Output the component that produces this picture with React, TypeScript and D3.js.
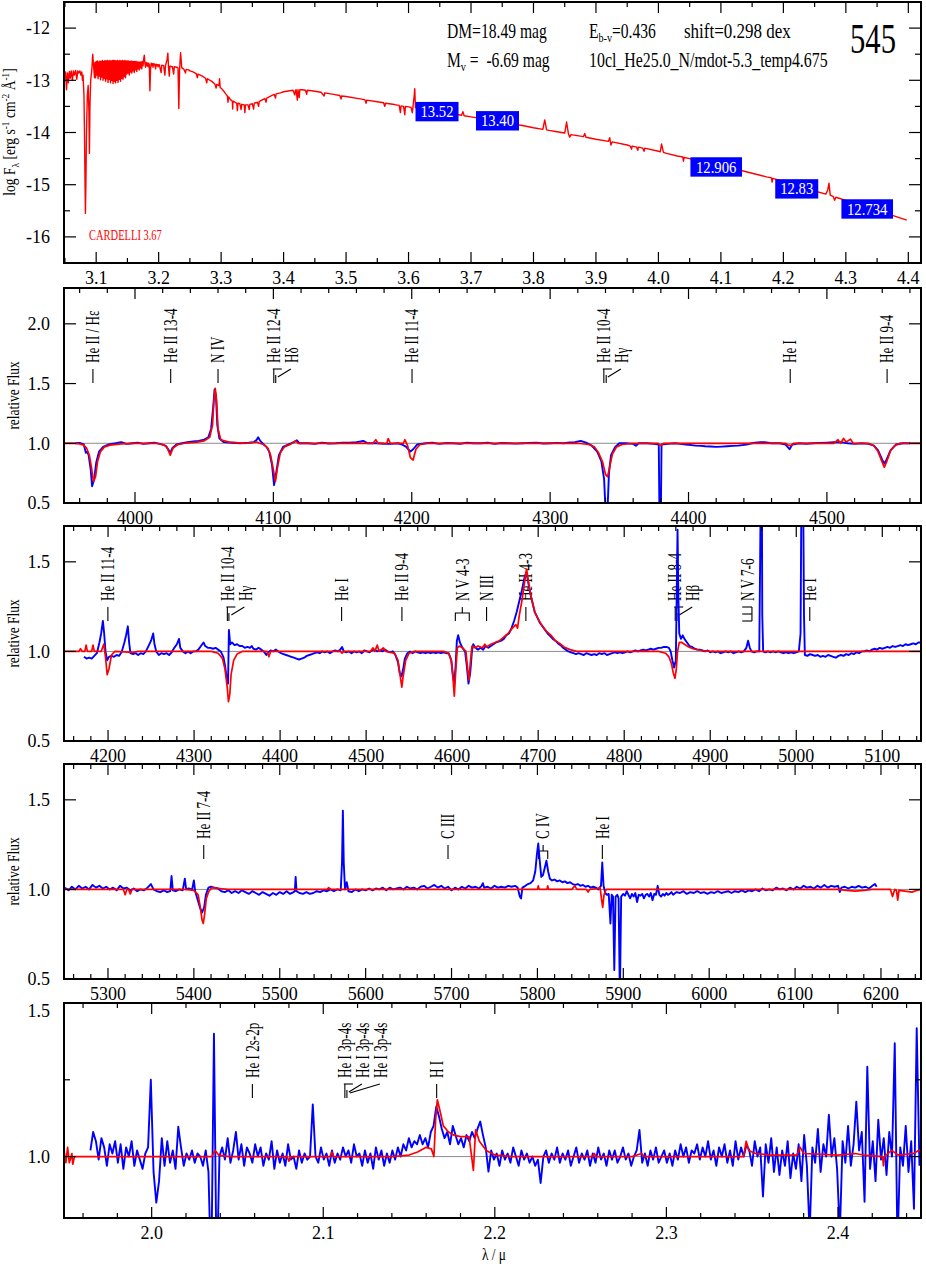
import React from "react";
import * as d3 from "d3";

const FONT = "'Liberation Serif','Times New Roman',Times,serif";
const BLUE = "#0000ff";
const RED = "#ff0000";

// ---------------- DATA ----------------
// Panel 1: model SED (log lambda [A], log F_lambda)
const sedModelA = [
  3.0485,-12.85, 3.050,-12.95, 3.051,-12.84, 3.0525,-13.18, 3.054,-12.86, 3.0555,-13.05, 3.057,-12.83,
  3.0585,-12.96, 3.060,-12.82, 3.062,-13.0, 3.0635,-12.82, 3.065,-12.9, 3.067,-12.81, 3.069,-12.98,
  3.0705,-12.82, 3.072,-12.86, 3.074,-12.82, 3.0755,-12.9, 3.077,-12.84, 3.078,-13.0, 3.079,-12.9,
  3.0805,-13.3, 3.0815,-14.2, 3.0822,-15.0, 3.0828,-15.55, 3.0835,-15.0, 3.0845,-14.0, 3.0858,-13.3,
  3.0872,-13.1, 3.0884,-13.6, 3.0892,-14.4, 3.0900,-13.5, 3.0912,-13.0, 3.0930,-12.8, 3.0945,-12.5,
  3.0960,-12.75, 3.0973,-12.95,
];
const sedBandStart = 3.098;
const sedBandStep = 0.001;
const sedBand = [
  -12.66,-12.95,-12.64,-12.9,-12.63,-12.97,-12.65,-12.92,-12.63,-12.99,
  -12.64,-12.94,-12.62,-13.0,-12.64,-12.96,-12.62,-13.02,-12.63,-12.97,
  -12.62,-13.04,-12.63,-12.98,-12.62,-13.05,-12.63,-13.0,-12.62,-13.06,
  -12.62,-13.02,-12.62,-13.05,-12.63,-13.0,-12.62,-13.04,-12.63,-12.98,
  -12.62,-13.02,-12.63,-12.96,-12.62,-12.98,-12.63,-12.93,-12.62,-12.95,
  -12.63,-12.88,-12.63,-12.86,-12.63,-12.9,-12.64,-12.84,-12.63,-12.86,
  -12.64,-12.82,-12.64,-12.85,-12.64,-12.8,-12.64,-12.83,-12.65,-12.78,
  -12.65,-12.8,-12.65,-12.76,-12.65,-12.78,-12.64,-12.72,-12.6,-12.52,
  -12.66,-12.75,-12.66,-12.72,-12.67,-12.74,-12.67,-12.7,-13.2,-12.8,
  -12.67,-12.72,-12.68,-12.75,-12.68,-12.7,-12.69,-12.78,-12.69,-12.72,
  -12.7,-12.74,-12.7,
];
const sedModelB = [
  3.201,-12.70, 3.204,-12.85, 3.205,-12.71, 3.208,-12.72, 3.210,-12.9, 3.211,-12.72, 3.2135,-12.6,
  3.2147,-12.48, 3.2158,-12.75, 3.217,-12.92, 3.218,-12.73, 3.222,-12.74, 3.224,-12.88, 3.225,-12.74,
  3.229,-12.75, 3.231,-12.76, 3.2323,-13.54, 3.2335,-12.8, 3.2351,-12.47, 3.237,-12.76, 3.240,-12.78,
  3.243,-12.86, 3.244,-12.79, 3.248,-12.8, 3.25,-12.82, 3.255,-12.84, 3.26,-12.87, 3.262,-12.95,
  3.263,-12.88, 3.27,-12.92, 3.275,-12.96, 3.277,-13.05, 3.278,-12.97, 3.285,-13.02, 3.29,-13.07,
  3.292,-13.15, 3.293,-13.08, 3.2965,-13.1, 3.2975,-12.97, 3.2985,-13.14, 3.30,-13.15, 3.305,-13.22,
  3.308,-13.27, 3.31,-13.3, 3.311,-13.42, 3.312,-13.32, 3.315,-13.37, 3.318,-13.4, 3.3185,-13.55,
  3.319,-13.4, 3.322,-13.42, 3.325,-13.44, 3.326,-13.58, 3.327,-13.44, 3.33,-13.45, 3.332,-13.56,
  3.333,-13.46, 3.337,-13.47, 3.338,-13.62, 3.339,-13.47, 3.343,-13.47, 3.345,-13.56, 3.346,-13.46,
  3.35,-13.45, 3.352,-13.55, 3.353,-13.44, 3.358,-13.42, 3.36,-13.5, 3.361,-13.41, 3.365,-13.38,
  3.37,-13.35, 3.372,-13.42, 3.373,-13.34, 3.38,-13.3, 3.385,-13.27, 3.387,-13.34, 3.388,-13.26,
  3.395,-13.24, 3.40,-13.22, 3.41,-13.2, 3.415,-13.19, 3.418,-13.28, 3.419,-13.19, 3.42,-13.18,
  3.422,-13.38, 3.423,-13.18, 3.425,-13.33, 3.426,-13.18, 3.43,-13.18, 3.435,-13.19, 3.437,-13.27,
  3.438,-13.19, 3.445,-13.2, 3.45,-13.21, 3.46,-13.23, 3.465,-13.3, 3.466,-13.24, 3.48,-13.27,
  3.49,-13.29, 3.492,-13.36, 3.493,-13.3, 3.50,-13.31, 3.52,-13.35, 3.53,-13.37, 3.532,-13.44,
  3.533,-13.38, 3.55,-13.41, 3.56,-13.43, 3.562,-13.5, 3.563,-13.44, 3.575,-13.46, 3.58,-13.47,
  3.585,-13.48, 3.587,-13.62, 3.588,-13.49, 3.592,-13.5, 3.594,-13.66, 3.595,-13.5, 3.60,-13.51,
  3.604,-13.52, 3.606,-13.62, 3.607,-13.52, 3.609,-13.3, 3.610,-13.16, 3.611,-13.52, 3.615,-13.53,
  3.62,-13.54, 3.622,-13.66, 3.623,-13.55, 3.63,-13.56, 3.635,-13.57, 3.637,-13.68, 3.638,-13.58,
  3.645,-13.6, 3.648,-13.7, 3.649,-13.6, 3.655,-13.61, 3.66,-13.62, 3.662,-13.75, 3.663,-13.63,
  3.67,-13.64, 3.673,-13.57, 3.675,-13.65, 3.685,-13.67, 3.687,-13.6, 3.689,-13.68, 3.70,-13.7,
  3.72,-13.74, 3.75,-13.8, 3.765,-13.83, 3.767,-13.9, 3.768,-13.84, 3.78,-13.86, 3.80,-13.91,
  3.815,-13.94, 3.818,-13.76, 3.821,-13.95, 3.825,-13.96, 3.835,-13.98, 3.84,-13.99, 3.85,-14.01,
  3.853,-13.8, 3.856,-14.03, 3.858,-14.09, 3.86,-14.04, 3.88,-14.08, 3.882,-14.02, 3.884,-14.09,
  3.90,-14.13, 3.92,-14.17, 3.922,-14.1, 3.924,-14.24, 3.926,-14.18, 3.95,-14.24, 3.955,-14.26,
  3.957,-14.32, 3.958,-14.26, 3.965,-14.28, 3.967,-14.34, 3.968,-14.28, 3.975,-14.3, 3.977,-14.36,
  3.978,-14.3, 4.0,-14.36, 4.003,-14.37, 4.005,-14.22, 4.008,-14.38, 4.013,-14.4, 4.03,-14.45,
  4.039,-14.47, 4.040,-14.55, 4.041,-14.48, 4.05,-14.5, 4.10,-14.64, 4.12,-14.7, 4.122,-14.75,
  4.123,-14.7, 4.15,-14.78, 4.1732,-14.85, 4.181,-14.87, 4.182,-14.95, 4.183,-14.88, 4.22,-15.0,
  4.25,-15.12, 4.268,-15.18, 4.271,-15.1, 4.273,-14.97, 4.275,-15.2, 4.28,-15.23, 4.282,-15.3,
  4.284,-15.24, 4.30,-15.3, 4.33,-15.42, 4.36,-15.53, 4.3975,-15.68,
];

// photometry boxes
const photMags = ["13.52", "13.40", "12.906", "12.83", "12.734"];
const photLogLam = [3.6456, 3.7424, 4.0925, 4.2214, 4.3342];
const photLogF = [-13.6, -13.776, -14.66, -15.08, -15.465];

// Panel 2 (3950-4570 A)
const p2Model = [
  3948.7,1.0, 3955,1.0, 3960,0.995, 3963,0.985, 3965,0.96, 3967,0.9, 3968.5,0.8, 3970,0.68, 3971.5,0.72,
  3973,0.85, 3975,0.93, 3978,0.97, 3982,0.985, 3990,0.995, 4000,1.0, 4015,1.0, 4020,0.99, 4023,0.97,
  4025.5,0.9, 4027.5,0.96, 4031,0.99, 4036,1.0, 4045,1.01, 4050,1.02, 4054,1.05, 4056,1.15, 4057,1.35,
  4058,1.46, 4059,1.35, 4060,1.12, 4062,1.03, 4068,1.01, 4080,1.0, 4088,1.01, 4090,1.0, 4093,0.99,
  4096,0.96, 4098,0.9, 4100,0.78, 4101.5,0.68, 4103,0.8, 4105,0.92, 4108,0.97, 4112,0.99, 4116,1.02,
  4118,1.0, 4172,1.0, 4174,1.03, 4175.5,1.0, 4182,1.0, 4183,1.04, 4184.5,1.0, 4194,1.0, 4195,1.03,
  4197,0.98, 4199,0.88, 4201,0.86, 4203,0.95, 4206,0.99, 4212,1.0, 4320,1.0, 4328,0.99, 4332,0.97,
  4335,0.92, 4338,0.84, 4340,0.74, 4341.5,0.72, 4343,0.8, 4345,0.91, 4348,0.97, 4352,0.99, 4360,1.0,
  4378,1.0, 4380,0.98, 4382,1.0, 4470,1.0, 4472,0.985, 4474,0.98, 4476,1.0, 4505,1.0, 4508,1.03,
  4510,1.0, 4512,1.04, 4514,1.01, 4517,1.035, 4519,1.0, 4530,1.0, 4534,0.98, 4537,0.93, 4540,0.84,
  4541.5,0.80, 4543,0.84, 4546,0.94, 4549,0.98, 4553,1.0, 4568,1.0,
];
const p2Obs = [
  3957,1.0, 3960,1.003, 3963,0.99, 3964.5,0.92, 3965.5,0.93, 3966.5,0.9, 3968,0.78, 3969,0.64, 3970.5,0.7,
  3972,0.84, 3974,0.93, 3977,0.97, 3981,0.99, 3986,1.0, 3990,1.01, 3994,0.995, 3998,1.0, 4002,1.005,
  4006,0.995, 4010,1.0, 4014,1.005, 4018,0.995, 4022,0.98, 4024,0.95, 4025.5,0.92, 4027,0.96, 4030,0.99,
  4034,1.0, 4038,1.01, 4042,1.015, 4046,1.02, 4050,1.03, 4053,1.05, 4055,1.12, 4056.5,1.3, 4057.5,1.45,
  4058.5,1.4, 4059.5,1.15, 4061,1.04, 4064,1.01, 4070,1.005, 4076,1.0, 4082,1.005, 4086,1.01, 4088,1.03,
  4089,1.05, 4090.5,1.02, 4093,0.99, 4095,0.97, 4097,0.93, 4099,0.82, 4100.5,0.65, 4102,0.75, 4104,0.9,
  4107,0.97, 4111,0.99, 4115,1.01, 4117,1.025, 4119,1.0, 4125,1.0, 4130,0.995, 4135,1.005, 4140,0.998,
  4145,1.0, 4150,1.004, 4155,1.005, 4160,1.01, 4163,1.015, 4165,1.02, 4168,1.0, 4175,1.0, 4180,0.996,
  4185,0.995, 4190,1.0, 4193,0.99, 4196,0.97, 4199,0.93, 4201,0.95, 4204,0.99, 4210,1.0, 4215,1.004,
  4220,0.995, 4225,1.002, 4230,1.0, 4235,0.996, 4240,1.005, 4245,1.0, 4250,1.0, 4255,1.004, 4260,0.995,
  4265,1.002, 4270,1.0, 4275,0.997, 4280,1.0, 4285,1.003, 4290,1.005, 4295,0.998, 4300,1.0, 4305,1.003,
  4310,1.0, 4314,1.006, 4318,1.01, 4322,1.02, 4326,1.005, 4330,0.98, 4334,0.93, 4337,0.85, 4339,0.7,
  4340,0.45, 4341.5,0.45, 4342.5,0.75, 4344,0.9, 4347,0.97, 4350,1.0, 4355,1.0, 4360,0.995, 4362,0.98,
  4364,1.0, 4370,1.0, 4375,0.995, 4378.5,0.99, 4379,0.4, 4380,0.4, 4380.5,0.99, 4385,0.995, 4390,1.0,
  4394,0.995, 4398,0.99, 4402,0.985, 4405,0.98, 4409,0.978, 4412,0.975, 4416,0.973, 4420,0.97, 4424,0.972,
  4428,0.975, 4432,0.978, 4436,0.98, 4439,0.985, 4442,0.99, 4445,0.998, 4448,1.005, 4452,1.008, 4455,1.01,
  4460,1.0, 4466,1.0, 4470,0.99, 4473,0.95, 4475,0.99, 4480,1.0, 4485,0.996, 4490,1.0, 4495,1.003,
  4500,1.005, 4505,1.008, 4510,1.01, 4515,1.0, 4520,0.995, 4525,1.0, 4530,0.995, 4534,0.98, 4537,0.94,
  4540,0.86, 4541.5,0.83, 4543,0.86, 4546,0.94, 4550,0.99, 4555,1.0, 4560,1.0,
];

// Panel 3 (4150-5145 A)
const p3Model = [
  4148.8,1.0, 4160,1.0, 4166,1.0, 4168,1.015, 4170,1.0, 4173,1.0, 4174.5,1.035, 4176,1.0, 4181,1.0,
  4182.5,1.035, 4184,1.0, 4192,1.0, 4195,1.04, 4197,0.97, 4199,0.87, 4201,0.9, 4204,0.98, 4208,1.0,
  4230,0.995, 4235,1.0, 4320,1.0, 4328,0.99, 4333,0.96, 4336,0.9, 4338.5,0.8, 4340,0.72, 4341.5,0.76,
  4343,0.87, 4346,0.95, 4350,0.985, 4356,1.0, 4385,1.0, 4387,0.97, 4389,1.0, 4470,1.0, 4472,0.99,
  4474,1.0, 4505,1.0, 4508,1.02, 4510,1.0, 4513,1.035, 4515,1.0, 4520,1.02, 4523,1.0, 4533,0.99,
  4537,0.95, 4540,0.85, 4541.5,0.8, 4543,0.86, 4546,0.95, 4550,0.99, 4556,1.0, 4590,1.0, 4596,0.99,
  4599,0.95, 4601,0.85, 4602.5,0.75, 4604,0.88, 4606,1.02, 4608,1.03, 4612,1.02, 4616,1.0, 4618,0.9,
  4619.5,0.84, 4621,0.93, 4623,1.03, 4627,1.02, 4630,1.03, 4635,1.02, 4638,1.04, 4640,1.025, 4645,1.04,
  4650,1.05, 4655,1.06, 4660,1.08, 4665,1.1, 4670,1.13, 4674,1.15, 4676,1.13, 4678,1.2, 4681,1.28,
  4684,1.38, 4686.5,1.46, 4689,1.38, 4692,1.3, 4696,1.22, 4700,1.18, 4705,1.14, 4710,1.11, 4715,1.09,
  4720,1.06, 4725,1.045, 4730,1.025, 4737,1.01, 4745,1.0, 4840,1.0, 4848,0.99, 4852,0.97, 4855,0.93,
  4857,0.88, 4859,0.85, 4860.5,0.9, 4862,1.0, 4864,1.05, 4867,1.05, 4870,1.04, 4875,1.025, 4880,1.015,
  4890,1.005, 4900,1.0, 5145,1.0,
];
const p3Obs = [
  4172,0.97, 4175,0.96, 4178,0.965, 4181,0.96, 4184,0.975, 4187,0.99, 4190,1.05, 4192,1.1, 4194,1.17,
  4195.5,1.1, 4197,1.0, 4199,0.95, 4201,0.97, 4204,0.975, 4207,0.97, 4210,0.98, 4213,0.975, 4216,1.0,
  4219,1.05, 4221,1.09, 4223,1.14, 4224.5,1.05, 4226,0.99, 4229,0.985, 4232,0.99, 4235,0.98, 4238,0.99,
  4241,0.985, 4244,1.0, 4247,1.03, 4250,1.06, 4252.5,1.1, 4254,1.04, 4256,1.0, 4259,0.98, 4262,0.99,
  4265,0.985, 4268,0.99, 4271,0.98, 4274,0.995, 4277,1.02, 4280,1.04, 4282.5,1.07, 4284,1.02, 4287,1.0,
  4290,0.99, 4293,1.0, 4296,0.99, 4299,1.0, 4302,1.0, 4305,1.01, 4308,1.03, 4311,1.05, 4313,1.03,
  4316,1.02, 4319,1.02, 4322,1.015, 4325,1.02, 4328,1.01, 4331,1.0, 4334,0.97, 4336,0.92, 4338,0.85,
  4339.5,0.82, 4340.5,1.12, 4342,1.04, 4344,1.05, 4347,1.035, 4350,1.04, 4353,1.03, 4356,1.03,
  4359,1.02, 4362,1.025, 4365,1.02, 4367,1.03, 4369,1.015, 4372,1.01, 4375,1.02, 4378,1.01, 4381,1.0,
  4384,0.98, 4386,0.995, 4389,1.005, 4392,1.0, 4395,1.01, 4398,1.0, 4401,0.99, 4404,0.985, 4407,0.98,
  4410,0.975, 4413,0.97, 4416,0.965, 4419,0.96, 4422,0.955, 4425,0.96, 4428,0.965, 4431,0.975,
  4434,0.98, 4437,0.985, 4440,0.99, 4443,0.995, 4446,0.99, 4449,1.0, 4452,0.995, 4455,1.0, 4458,0.99,
  4461,1.0, 4464,1.005, 4467,1.0, 4470,1.01, 4472,1.025, 4474,1.0, 4477,0.995, 4480,1.0, 4483,0.99,
  4486,1.0, 4489,0.995, 4492,1.0, 4495,0.99, 4498,1.005, 4501,1.0, 4504,0.995, 4507,1.005, 4510,1.01,
  4513,1.0, 4516,1.005, 4519,1.0, 4522,1.01, 4525,1.0, 4528,0.995, 4531,1.0, 4534,0.98, 4537,0.94,
  4539,0.88, 4541,0.86, 4543,0.9, 4545,0.96, 4548,0.99, 4551,1.0, 4554,0.99, 4557,1.0, 4560,0.995,
  4563,0.99, 4566,0.995, 4569,0.99, 4572,0.995, 4575,0.99, 4578,0.995, 4581,0.99, 4584,0.995, 4587,0.99,
  4590,0.995, 4593,0.99, 4596,0.99, 4599,0.95, 4601,0.86, 4602.5,0.82, 4604,0.92, 4605.5,1.06, 4607,1.09,
  4609,1.05, 4612,1.02, 4615,1.0, 4617,0.92, 4619,0.82, 4621,0.88, 4623,1.0, 4624.5,1.04, 4627,1.02,
  4630,1.01, 4633,1.02, 4636,1.01, 4639,1.03, 4642,1.02, 4645,1.03, 4648,1.04, 4651,1.05, 4654,1.055,
  4657,1.06, 4660,1.07, 4663,1.09, 4666,1.1, 4669,1.13, 4672,1.17, 4675,1.22, 4678,1.28, 4681,1.34,
  4684,1.41, 4686,1.44, 4688,1.4, 4690,1.34, 4693,1.28, 4696,1.22, 4699,1.19, 4702,1.16, 4705,1.14,
  4708,1.12, 4711,1.1, 4714,1.085, 4717,1.07, 4720,1.06, 4723,1.045, 4726,1.035, 4729,1.02, 4732,1.01,
  4735,1.0, 4738,0.995, 4741,0.99, 4744,0.985, 4747,0.99, 4750,0.985, 4753,0.98, 4756,0.99, 4759,0.985,
  4762,0.98, 4765,0.985, 4768,0.98, 4771,0.99, 4774,0.985, 4777,0.99, 4780,0.98, 4783,0.985, 4786,0.99,
  4789,0.995, 4792,0.99, 4795,0.995, 4798,0.99, 4801,0.995, 4804,1.0, 4807,0.995, 4810,1.0, 4813,1.005,
  4816,1.0, 4819,1.005, 4822,1.01, 4825,1.005, 4828,1.01, 4831,1.015, 4834,1.01, 4837,1.015, 4840,1.02,
  4843,1.02, 4846,1.025, 4849,1.025, 4852,1.02, 4854,1.0, 4856,0.95, 4858,0.91, 4860,0.95, 4861,1.3,
  4862,1.68, 4863,1.3, 4864,1.1, 4866,1.07, 4868,1.09, 4870,1.07, 4873,1.05, 4876,1.03, 4879,1.025,
  4882,1.015, 4885,1.01, 4888,1.01, 4891,1.005, 4894,1.0, 4897,1.005, 4900,0.995, 4903,1.0, 4906,0.995,
  4909,1.0, 4912,0.99, 4915,0.995, 4918,1.0, 4921,0.995, 4924,1.0, 4927,0.99, 4930,0.995, 4933,1.0,
  4936,0.995, 4939,1.0, 4942,1.02, 4944,1.06, 4946,1.02, 4948,1.0, 4951,0.995, 4954,1.0, 4957,1.0,
  4958,1.5, 4958.7,1.9, 4960,1.9, 4960.5,1.2, 4961.5,1.0, 4964,0.995, 4967,1.0, 4970,0.995, 4973,1.0,
  4976,0.995, 4979,1.0, 4982,0.995, 4985,0.99, 4988,0.995, 4991,0.99, 4994,0.995, 4997,0.99, 5000,0.995,
  5003,1.0, 5005,1.1, 5006,1.9, 5008,1.9, 5009,1.2, 5010,0.98, 5013,0.975, 5016,0.985, 5019,0.98,
  5022,0.975, 5025,0.98, 5028,0.97, 5031,0.975, 5034,0.97, 5037,0.98, 5040,0.975, 5043,0.97, 5046,0.965,
  5049,0.975, 5052,0.98, 5055,0.975, 5058,0.985, 5061,0.98, 5064,0.99, 5067,0.985, 5070,0.995, 5073,0.99,
  5076,1.0, 5079,1.0, 5082,1.005, 5085,1.0, 5088,1.01, 5091,1.015, 5094,1.01, 5097,1.02, 5100,1.015,
  5103,1.02, 5106,1.025, 5109,1.02, 5112,1.03, 5115,1.025, 5118,1.03, 5121,1.035, 5124,1.03, 5127,1.04,
  5130,1.035, 5133,1.04, 5136,1.045, 5139,1.04, 5142,1.05, 5145,1.05,
];

// Panel 4 (5250-6245 A)
const p4Model = [
  5248.8,1.0, 5300,1.0, 5318,1.0, 5320,0.97, 5322,1.0, 5324,1.0, 5326,0.975, 5328,1.0, 5390,1.0,
  5400,0.995, 5405,0.97, 5407.5,0.9, 5409.5,0.83, 5411,0.81, 5412.5,0.86, 5414.5,0.95, 5417.5,0.99,
  5421,1.01, 5430,1.005, 5440,1.0, 5555,1.0, 5557,1.01, 5559,1.0, 5800,1.0, 5801,1.02, 5802,1.0,
  5811,1.0, 5812,1.02, 5813,1.0, 5840,1.0, 5843.5,1.02, 5846,1.0, 5857,1.0, 5859,0.985, 5861,1.0,
  5870,1.005, 5873,1.01, 5874.5,0.95, 5876,0.9, 5877.5,0.97, 5880,1.0, 6150,1.0, 6160,0.995,
  6170,0.99, 6180,0.995, 6190,1.0, 6211,1.0, 6213.5,0.96, 6216,1.0, 6218,0.995, 6219.5,0.94,
  6221,0.995, 6228,0.99, 6236,0.985, 6242,0.995, 6246.6,1.0,
];
const p4Obs = [
  5250,1.01, 5254,0.995, 5258,1.015, 5262,1.0, 5266,1.02, 5270,1.005, 5274,1.015, 5278,1.0, 5282,1.025,
  5286,1.01, 5290,1.02, 5294,1.005, 5298,1.015, 5302,1.0, 5306,1.01, 5310,0.995, 5314,1.02, 5318,1.005,
  5322,1.01, 5326,0.995, 5330,1.005, 5334,0.99, 5338,1.0, 5342,0.995, 5346,1.01, 5350,1.03, 5353,1.0,
  5357,0.99, 5361,0.985, 5365,0.995, 5369,0.985, 5372.5,0.99, 5374,1.075, 5375.5,0.995, 5379,0.99,
  5383,1.0, 5387,0.995, 5389.5,1.06, 5391,1.0, 5394,1.005, 5398,1.0, 5400,1.05, 5401.5,0.99, 5404,0.95,
  5407,0.9, 5409.5,0.87, 5412,0.9, 5414,0.97, 5417,1.01, 5420,1.015, 5424,1.01, 5428,1.005, 5432,0.99,
  5436,0.985, 5440,0.995, 5444,0.98, 5448,0.99, 5452,0.98, 5456,0.995, 5460,0.985, 5464,0.975, 5468,0.99,
  5472,0.98, 5476,0.97, 5480,0.985, 5484,0.975, 5488,0.965, 5492,0.98, 5496,0.97, 5500,0.985, 5504,0.975,
  5508,0.99, 5512,0.975, 5516,0.985, 5517.5,0.99, 5518.5,1.07, 5519.5,0.99, 5523,0.98, 5527,0.975,
  5531,0.985, 5535,0.975, 5539,0.98, 5543,0.99, 5547,0.985, 5551,0.995, 5555,0.99, 5559,1.0, 5563,0.99,
  5567,1.0, 5571,0.995, 5572.5,1.15, 5573.5,1.44, 5574.5,1.15, 5576,1.0, 5578,1.04, 5580,0.99,
  5584,0.985, 5588,1.0, 5592,0.99, 5596,1.0, 5600,0.995, 5604,1.005, 5608,0.995, 5612,1.005, 5616,1.0,
  5620,1.01, 5624,0.995, 5628,1.01, 5632,1.0, 5636,1.005, 5640,1.01, 5644,1.0, 5648,1.015, 5652,1.005,
  5656,1.01, 5660,1.0, 5664,1.015, 5668,1.02, 5672,1.005, 5676,1.015, 5680,1.025, 5684,1.01, 5688,1.02,
  5692,1.005, 5696,1.015, 5700,0.995, 5704,1.01, 5708,1.0, 5712,1.015, 5716,1.005, 5720,1.02, 5724,1.01,
  5728,1.015, 5732,1.005, 5735,1.02, 5736.5,1.035, 5738,1.01, 5742,1.015, 5746,1.005, 5750,1.02,
  5754,1.01, 5758,1.015, 5762,1.01, 5766,1.02, 5770,1.015, 5774,1.02, 5777,1.01, 5779.5,0.96, 5781,0.95,
  5782.5,1.01, 5786,1.02, 5789,1.03, 5792,1.035, 5795,1.05, 5797.5,1.1, 5799.5,1.2, 5801,1.257,
  5802.5,1.17, 5804.5,1.07, 5806.5,1.08, 5808.5,1.12, 5810.5,1.16, 5812.5,1.1, 5814.5,1.06, 5817,1.05,
  5820,1.055, 5823,1.045, 5826,1.05, 5829,1.04, 5832,1.045, 5835,1.035, 5838,1.04, 5841,1.03, 5844,1.025,
  5847,1.03, 5850,1.02, 5853,1.025, 5856,1.015, 5859,1.02, 5862,1.01, 5865,1.015, 5868,1.01, 5871,1.0,
  5874,1.02, 5875.5,1.15, 5877,1.02, 5879,0.98, 5881,0.97, 5883,0.975, 5885,0.81, 5886.5,0.97, 5888,0.96,
  5889.5,0.55, 5891,0.96, 5893,0.97, 5894.5,0.95, 5896,0.4, 5897.5,0.96, 5900,0.975, 5902,0.965,
  5904,0.99, 5906,0.97, 5908,0.95, 5910,0.975, 5912,0.96, 5914,0.98, 5916,0.93, 5918,0.97, 5920,0.965,
  5922,0.975, 5924,0.95, 5926,0.97, 5928,0.975, 5930,0.96, 5932,0.98, 5934,0.94, 5936,0.975, 5938,0.97,
  5940,1.02, 5942,0.97, 5944,0.96, 5946,0.975, 5948,0.965, 5950,0.98, 5952,0.97, 5954,0.975, 5956,0.985,
  5958,0.97, 5962,0.985, 5966,0.98, 5970,0.99, 5974,0.975, 5978,0.985, 5982,0.98, 5986,0.99, 5990,0.98,
  5994,0.985, 5998,0.975, 6002,0.985, 6006,0.98, 6010,0.99, 6014,0.98, 6018,0.985, 6022,0.99, 6026,0.98,
  6030,0.99, 6034,0.985, 6038,0.995, 6042,0.985, 6046,0.995, 6050,0.99, 6054,1.0, 6058,0.99, 6062,1.005,
  6066,0.995, 6070,1.0, 6074,0.995, 6078,1.01, 6082,1.0, 6086,1.005, 6090,0.995, 6094,1.01, 6098,1.0,
  6102,1.015, 6106,1.005, 6110,1.02, 6114,1.01, 6118,1.015, 6122,1.005, 6126,1.02, 6130,1.01, 6134,1.025,
  6138,1.01, 6142,1.02, 6146,1.015, 6150,1.02, 6152,0.985, 6154,1.01, 6158,1.015, 6162,1.005, 6166,1.015,
  6170,1.01, 6174,1.02, 6178,1.01, 6182,1.015, 6186,1.005, 6190,1.02, 6193,1.03, 6195,1.015,
];

// Panel 5 (K band, micron)
const p5Model = [
  1.9489,1.02, 1.950,0.98, 1.951,1.03, 1.952,0.98, 1.9535,1.01, 1.954,0.975, 1.955,1.0, 1.96,1.0,
  2.035,1.0, 2.037,1.02, 2.039,1.005, 2.045,1.0, 2.079,1.0, 2.08,0.985, 2.081,1.0, 2.104,1.0, 2.105,1.015,
  2.106,1.0, 2.14,1.0, 2.15,1.005, 2.155,1.015, 2.16,1.03, 2.163,1.025, 2.1645,1.0, 2.1655,1.12,
  2.1665,1.185, 2.168,1.15, 2.17,1.1, 2.173,1.08, 2.176,1.07, 2.18,1.065, 2.185,1.065, 2.1875,0.955,
  2.1888,1.087, 2.191,1.05, 2.195,1.02, 2.2,1.005, 2.21,1.0, 2.257,1.0, 2.258,1.01, 2.259,1.0, 2.28,1.0,
  2.2855,1.01, 2.287,1.0, 2.345,1.0, 2.3465,1.05, 2.348,1.02, 2.352,1.01, 2.36,1.005, 2.376,1.005,
  2.378,1.03, 2.38,1.01, 2.40,1.005, 2.41,1.01, 2.415,1.005, 2.426,1.0, 2.4265,0.97, 2.427,1.0,
  2.4313,1.02, 2.435,1.005, 2.444,1.01, 2.447,1.02, 2.4484,1.02,
];
const p5ObsStart = 1.9643;
const p5ObsStep = 0.0016;
const p5Obs = [
  1.02,1.08,1.05,0.99,1.06,1.03,0.97,1.04,1.01,1.05,
  0.98,1.04,0.96,1.03,1.0,1.05,0.97,1.02,0.99,0.96,
  1.01,1.03,1.25,0.95,0.85,0.92,1.06,0.97,1.05,0.98,
  1.02,0.96,1.097,1.03,0.97,1.01,0.99,1.02,0.98,1.01,
  1.0,0.97,1.02,0.95,0.6,1.4,0.6,1.0,1.03,0.99,
  1.06,0.98,1.02,1.08,0.99,1.04,0.97,1.03,1.01,0.98,
  1.04,1.0,1.03,0.97,1.01,0.99,1.05,0.96,1.02,0.98,
  1.01,0.97,1.04,0.99,1.0,0.96,1.02,0.98,1.01,0.99,
  1.0,1.17,1.0,0.98,1.03,0.99,1.01,0.97,1.02,0.98,
  1.01,0.99,1.03,1.0,1.02,0.98,1.04,1.0,1.01,0.97,
  1.02,0.98,1.01,0.96,1.03,0.99,1.02,0.97,1.01,0.98,
  1.02,0.99,1.03,1.0,1.04,1.02,1.06,1.03,1.05,1.04,
  1.07,1.04,1.06,1.03,1.08,1.1,1.163,1.13,1.09,1.06,
  1.08,1.04,1.1,1.07,1.04,1.06,1.03,1.07,1.05,1.08,
  1.06,1.09,1.114,1.07,1.03,0.951,1.02,0.99,1.01,0.97,
  1.02,0.99,1.01,0.98,1.03,1.0,0.97,1.02,0.99,1.01,
  0.98,1.0,0.97,0.99,0.914,1.0,1.02,0.98,1.01,0.99,
  1.03,0.98,1.01,0.99,1.02,0.97,1.0,1.03,0.98,1.01,
  0.99,1.02,0.97,1.01,0.98,1.03,0.99,1.01,0.97,1.02,
  0.99,1.02,0.98,1.0,1.03,0.99,1.01,0.97,1.0,1.02,
  1.087,0.98,1.01,0.97,1.02,0.99,1.03,0.98,1.0,1.02,
  0.98,1.01,0.97,1.02,0.99,1.04,1.0,1.03,0.98,1.02,
  1.01,1.04,0.99,1.03,1.0,1.05,0.99,1.02,0.97,1.03,
  1.0,1.04,0.98,1.02,0.97,1.05,0.99,1.03,1.0,1.04,
  1.02,0.97,1.05,1.0,1.03,0.87,1.04,0.98,1.06,0.95,
  1.03,0.94,1.02,0.97,1.05,0.93,1.01,0.96,1.04,0.92,
  1.07,0.97,0.75,1.03,0.98,1.09,0.95,1.04,1.0,1.136,
  1.0,1.06,0.96,0.75,1.05,0.98,1.1,0.97,1.04,1.179,
  1.02,1.08,0.853,1.293,0.96,1.05,0.92,1.12,0.99,1.06,
  0.94,1.08,1.0,1.369,0.7,1.03,0.97,1.1,0.95,1.05,
  0.83,1.418,0.97,
];

// line identifications
const p2Lines = [
  { names: ["He II / Hε"], waves: [3969.6] },
  { names: ["He II 13-4"], waves: [4025.8] },
  { names: ["N IV"], waves: [4060.0] },
  { names: ["He II 12-4", "Hδ"], waves: [4100.3, 4101.7] },
  { names: ["He II 11-4"], waves: [4200.2] },
  { names: ["He II 10-4", "Hγ"], waves: [4338.8, 4340.5] },
  { names: ["He I"], waves: [4473.5] },
  { names: ["He II 9-4"], waves: [4543.5] },
];
const p3Lines = [
  { names: ["He II 11-4"], waves: [4199.8] },
  { names: ["He II 10-4", "Hγ"], waves: [4338.7, 4340.5] },
  { names: ["He I"], waves: [4471.5] },
  { names: ["He II 9-4"], waves: [4541.6] },
  { names: ["N V 4-3"], waves: [4603.7, 4619.9] },
  { names: ["N III"], waves: [4640.0] },
  { names: ["He II 4-3"], waves: [4685.7] },
  { names: ["He II 8-4", "Hβ"], waves: [4859.3, 4861.3] },
  { names: ["N V 7-6"], waves: [4943.0, 4944.0, 4945.0] },
  { names: ["He I"], waves: [5015.7] },
];
const p4Lines = [
  { names: ["He II 7-4"], waves: [5411.5] },
  { names: ["C III"], waves: [5695.9] },
  { names: ["C IV"], waves: [5801.3, 5812.0] },
  { names: ["He I"], waves: [5875.6] },
];
const p5Lines = [
  { names: ["He I 2s-2p"], waves: [2.0587] },
  { names: ["He I 3p-4s", "He I 3p-4s", "He I 3p-4s"], waves: [2.1126, 2.1127, 2.1138] },
  { names: ["H I"], waves: [2.1661] },
];

// ---------------- LAYOUT ----------------
const W = 926;
const H = 1268;
const LEFT = 64;
const RIGHT = 921;

type Pt = [number, number];
const pairs = (flat: number[]): Pt[] => {
  const out: Pt[] = [];
  for (let i = 0; i + 1 < flat.length; i += 2) out.push([flat[i], flat[i + 1]]);
  return out;
};
const grid = (start: number, step: number, vals: number[]): Pt[] =>
  vals.map((v, i) => [start + i * step, v] as Pt);

function multiples(d0: number, d1: number, step: number): number[] {
  const out: number[] = [];
  const k0 = Math.ceil(d0 / step - 1e-9);
  const k1 = Math.floor(d1 / step + 1e-9);
  for (let k = k0; k <= k1; k++) out.push(+(k * step).toFixed(6));
  return out;
}

interface PanelCfg {
  id: string;
  top: number;
  bottom: number;
  xDom: [number, number];
  yDom: [number, number];
  xMajor: number;
  xMinor: number;
  yMajor: number;
  yMinor: number;
  xFmt: (v: number) => string;
  yFmt: (v: number) => string;
  unityLine: boolean;
}

const f1 = d3.format(".1f");
const fInt = (v: number) => String(Math.round(v));

const panels: PanelCfg[] = [
  { id: "p1", top: 2, bottom: 263, xDom: [3.0485, 4.4203], yDom: [-16.5, -11.5], xMajor: 0.1, xMinor: 0.05, yMajor: 1, yMinor: 0.5, xFmt: f1, yFmt: fInt, unityLine: false },
  { id: "p2", top: 288, bottom: 503, xDom: [3948.7, 4568], yDom: [0.5, 2.3], xMajor: 100, xMinor: 20, yMajor: 0.5, yMinor: 0, xFmt: fInt, yFmt: f1, unityLine: true },
  { id: "p3", top: 526, bottom: 741, xDom: [4148.8, 5145], yDom: [0.5, 1.7], xMajor: 100, xMinor: 20, yMajor: 0.5, yMinor: 0, xFmt: fInt, yFmt: f1, unityLine: true },
  { id: "p4", top: 764, bottom: 979, xDom: [5248.8, 6246.6], yDom: [0.5, 1.7], xMajor: 100, xMinor: 20, yMajor: 0.5, yMinor: 0, xFmt: fInt, yFmt: f1, unityLine: true },
  { id: "p5", top: 1003, bottom: 1218, xDom: [1.9489, 2.4484], yDom: [0.8, 1.5], xMajor: 0.1, xMinor: 0.02, yMajor: 0.5, yMinor: 0.25, xFmt: f1, yFmt: f1, unityLine: true },
];

function scalesFor(p: PanelCfg) {
  const xs = d3.scaleLinear().domain(p.xDom).range([LEFT, RIGHT]);
  const ys = d3.scaleLinear().domain(p.yDom).range([p.bottom, p.top]);
  return { xs, ys };
}

function Frame({ p }: { p: PanelCfg }) {
  const { xs, ys } = scalesFor(p);
  const xMaj = multiples(p.xDom[0], p.xDom[1], p.xMajor);
  const xMin = multiples(p.xDom[0], p.xDom[1], p.xMinor).filter(
    (v) => Math.abs(v / p.xMajor - Math.round(v / p.xMajor)) > 1e-6
  );
  const yMaj = multiples(p.yDom[0], p.yDom[1], p.yMajor);
  const yMin = p.yMinor
    ? multiples(p.yDom[0], p.yDom[1], p.yMinor).filter(
        (v) => Math.abs(v / p.yMajor - Math.round(v / p.yMajor)) > 1e-6
      )
    : [];
  const tk: React.ReactNode[] = [];
  const XM = 11, Xm = 5, YM = 12, Ym = 6;
  xMaj.forEach((v, i) => {
    const x = xs(v);
    tk.push(<line key={"xb" + i} x1={x} x2={x} y1={p.bottom} y2={p.bottom - XM} />);
    tk.push(<line key={"xt" + i} x1={x} x2={x} y1={p.top} y2={p.top + XM} />);
  });
  xMin.forEach((v, i) => {
    const x = xs(v);
    tk.push(<line key={"xbm" + i} x1={x} x2={x} y1={p.bottom} y2={p.bottom - Xm} />);
    tk.push(<line key={"xtm" + i} x1={x} x2={x} y1={p.top} y2={p.top + Xm} />);
  });
  yMaj.forEach((v, i) => {
    const y = ys(v);
    tk.push(<line key={"yl" + i} x1={LEFT} x2={LEFT + YM} y1={y} y2={y} />);
    tk.push(<line key={"yr" + i} x1={RIGHT} x2={RIGHT - YM} y1={y} y2={y} />);
  });
  yMin.forEach((v, i) => {
    const y = ys(v);
    tk.push(<line key={"ylm" + i} x1={LEFT} x2={LEFT + Ym} y1={y} y2={y} />);
    tk.push(<line key={"yrm" + i} x1={RIGHT} x2={RIGHT - Ym} y1={y} y2={y} />);
  });
  return (
    <g>
      <g stroke="#000" strokeWidth={1.2}>{tk}</g>
      <rect x={LEFT} y={p.top} width={RIGHT - LEFT} height={p.bottom - p.top} fill="none" stroke="#000" strokeWidth={2} />
      <g fontFamily={FONT} fontSize={18} fill="#000">
        {xMaj.map((v, i) => (
          <text key={"xl" + i} x={xs(v)} y={p.bottom + 21} textAnchor="middle">
            {p.xFmt(v)}
          </text>
        ))}
        {yMaj.map((v, i) => {
          let y = ys(v);
          if (y - p.top < 4) y = p.top + 8;
          return (
            <text key={"ylb" + i} x={50} y={y} dy="0.35em" textAnchor="end">
              {p.yFmt(v)}
            </text>
          );
        })}
      </g>
    </g>
  );
}

interface LineGroup { names: string[]; waves: number[] }

function LineMarks({ p, groups }: { p: PanelCfg; groups: LineGroup[] }) {
  const { xs } = scalesFor(p);
  const textBase = p.top + 75;
  const tTop = p.top + 81;
  const tBot = p.top + 95;
  const FS = 19;
  const SX = 0.69;
  const off = FS * 0.33;
  const marks: React.ReactNode[] = [];
  const texts: React.ReactNode[] = [];
  const label = (key: string, x: number, s: string) => (
    <g key={key} transform={`translate(${x + off},${textBase}) rotate(-90) scale(${SX},1)`}>
      <text x={0} y={0} fontFamily={FONT} fontSize={FS} fill="#000" stroke="none">{s}</text>
    </g>
  );
  groups.forEach((g, gi) => {
    const x0 = xs(g.waves[0]);
    if (g.names.length === 1 && g.waves.length === 1) {
      marks.push(<line key={`t${gi}`} x1={x0} x2={x0} y1={tBot} y2={tTop} />);
      texts.push(label(`l${gi}`, x0, g.names[0]));
    } else if (g.names.length > 1) {
      const x1 = xs(g.waves[g.waves.length - 1]);
      marks.push(<line key={`t${gi}`} x1={x0} x2={x0} y1={tBot} y2={tTop} />);
      marks.push(<line key={`t${gi}b`} x1={x1} x2={x1} y1={tBot} y2={tTop + 6} />);
      marks.push(<line key={`h${gi}`} x1={x0 - 1} x2={x0 + 8} y1={tTop} y2={tTop} />);
      g.names.forEach((n, ni) => {
        const tx = x0 + 18 * ni;
        if (ni > 0) {
          marks.push(
            <line key={`d${gi}-${ni}`} x1={x0 + 3 + ni} y1={tTop + 7 + ni} x2={tx - 1} y2={tTop} />
          );
        }
        texts.push(label(`l${gi}-${ni}`, tx, n));
      });
    } else if (g.waves.length === 2) {
      const xa = xs(g.waves[0]);
      const xb = xs(g.waves[1]);
      const xm = (xa + xb) / 2;
      const yb = tTop + 6;
      marks.push(
        <polyline key={`b${gi}`} fill="none" points={`${xa},${tBot} ${xa},${yb} ${xb},${yb} ${xb},${tBot}`} />
      );
      marks.push(<line key={`bm${gi}`} x1={xm} x2={xm} y1={yb} y2={tTop} />);
      texts.push(label(`l${gi}`, xm, g.names[0]));
    } else {
      const xa = xs(g.waves[0]) - 5;
      const xb = xs(g.waves[g.waves.length - 1]) + 3;
      marks.push(<line key={`c${gi}`} x1={xb} x2={xb} y1={tTop} y2={tBot} />);
      [tTop, (tTop + tBot) / 2, tBot].forEach((yy, k) =>
        marks.push(<line key={`c${gi}-${k}`} x1={xa} x2={xb} y1={yy} y2={yy} />)
      );
      texts.push(label(`l${gi}`, (xa + xb) / 2 + 1, g.names[0]));
    }
  });
  return (
    <g>
      <g stroke="#000" strokeWidth={1.1}>{marks}</g>
      <g>{texts}</g>
    </g>
  );
}

function Spectra({ p, obs, model }: { p: PanelCfg; obs: Pt[] | null; model: Pt[] }) {
  const { xs, ys } = scalesFor(p);
  const line = d3
    .line<Pt>()
    .x((d) => xs(d[0]))
    .y((d) => ys(d[1]));
  return (
    <g clipPath={`url(#clip-${p.id})`}>
      {p.unityLine && (
        <line x1={LEFT} x2={RIGHT} y1={ys(1)} y2={ys(1)} stroke="#8c8c8c" strokeWidth={1} />
      )}
      {obs && <path d={line(obs) || ""} fill="none" stroke={BLUE} strokeWidth={1.9} strokeLinejoin="round" />}
      <path d={line(model) || ""} fill="none" stroke={RED} strokeWidth={p.id === "p1" ? 1.4 : 1.7} strokeLinejoin="round" />
    </g>
  );
}

function Squeezed({ x, y, sx, children, anchor = "start", size, fill = "#000", rotate = 0 }: any) {
  return (
    <g transform={`translate(${x},${y}) rotate(${rotate}) scale(${sx},1)`}>
      <text x={0} y={0} fontFamily={FONT} fontSize={size} fill={fill} textAnchor={anchor} style={{ whiteSpace: "pre" }}>
        {children}
      </text>
    </g>
  );
}

export default function App() {
  const [P1, P2, P3, P4, P5] = panels;
  const sed: Pt[] = [...pairs(sedModelA), ...grid(sedBandStart, sedBandStep, sedBand), ...pairs(sedModelB)];
  const s1 = scalesFor(P1);
  const k5obs = grid(p5ObsStart, p5ObsStep, p5Obs);

  return (
    <svg
      width={W}
      height={H}
      viewBox={`0 0 ${W} ${H}`}
      style={{ position: "absolute", left: 0, top: 0, background: "#fff" }}
      xmlns="http://www.w3.org/2000/svg"
    >
      <defs>
        {panels.map((p) => (
          <clipPath key={p.id} id={`clip-${p.id}`}>
            <rect x={LEFT} y={p.top} width={RIGHT - LEFT} height={p.bottom - p.top} />
          </clipPath>
        ))}
      </defs>
      <rect x={0} y={0} width={W} height={H} fill="#fff" />

      {/* Panel 1 */}
      <Spectra p={P1} obs={null} model={sed} />
      <g clipPath="url(#clip-p1)">
        {photMags.map((m, i) => {
          const cx = s1.xs(photLogLam[i]);
          const cy = s1.ys(photLogF[i]);
          const w = 8.6 * m.length;
          return (
            <g key={m}>
              <rect x={cx - w / 2} y={cy - 9.7} width={w} height={19.4} fill={BLUE} />
              <Squeezed x={cx} y={cy + 5.6} sx={0.92} size={16} anchor="middle" fill="#fff">{m}</Squeezed>
            </g>
          );
        })}
      </g>
      <Frame p={P1} />
      <Squeezed x={447} y={38} sx={0.78} size={20}>DM=18.49 mag</Squeezed>
      <Squeezed x={589} y={38} sx={0.78} size={20}>
        <tspan>E</tspan>
        <tspan fontSize={13} dy={4}>b-v</tspan>
        <tspan dy={-4}>=0.436</tspan>
      </Squeezed>
      <Squeezed x={684} y={38} sx={0.85} size={20}>shift=0.298 dex</Squeezed>
      <Squeezed x={447} y={67} sx={0.78} size={20}>
        <tspan>M</tspan>
        <tspan fontSize={13} dy={4}>v</tspan>
        <tspan dy={-4}>{" =  -6.69 mag"}</tspan>
      </Squeezed>
      <Squeezed x={589} y={67} sx={0.795} size={20}>10cl_He25.0_N/mdot-5.3_temp4.675</Squeezed>
      <Squeezed x={850} y={53} sx={0.73} size={42}>545</Squeezed>
      <Squeezed x={89} y={240} sx={0.7} size={15} fill={RED}>CARDELLI 3.67</Squeezed>
      <Squeezed x={15} y={132} sx={0.85} size={16} anchor="middle" rotate={-90}>
        <tspan>log F</tspan>
        <tspan fontSize={11} dy={4}>λ</tspan>
        <tspan dy={-4}>{" [erg s"}</tspan>
        <tspan fontSize={11} dy={-6}>-1</tspan>
        <tspan dy={6}>{" cm"}</tspan>
        <tspan fontSize={11} dy={-6}>-2</tspan>
        <tspan dy={6}>{" Å"}</tspan>
        <tspan fontSize={11} dy={-6}>-1</tspan>
        <tspan dy={6}>]</tspan>
      </Squeezed>

      {/* Panels 2-4 */}
      <LineMarks p={P2} groups={p2Lines} />
      <Spectra p={P2} obs={pairs(p2Obs)} model={pairs(p2Model)} />
      <Frame p={P2} />

      <LineMarks p={P3} groups={p3Lines} />
      <Spectra p={P3} obs={pairs(p3Obs)} model={pairs(p3Model)} />
      <Frame p={P3} />

      <LineMarks p={P4} groups={p4Lines} />
      <Spectra p={P4} obs={pairs(p4Obs)} model={pairs(p4Model)} />
      <Frame p={P4} />

      {[P2, P3, P4].map((p) => (
        <Squeezed key={"yl" + p.id} x={19} y={(p.top + p.bottom) / 2} sx={0.84} size={16} anchor="middle" rotate={-90}>
          relative Flux
        </Squeezed>
      ))}

      {/* Panel 5 */}
      <LineMarks p={P5} groups={p5Lines} />
      <Spectra p={P5} obs={k5obs} model={pairs(p5Model)} />
      <Frame p={P5} />
      <Squeezed x={482} y={1260} sx={0.83} size={16}>λ / μ</Squeezed>
    </svg>
  );
}
